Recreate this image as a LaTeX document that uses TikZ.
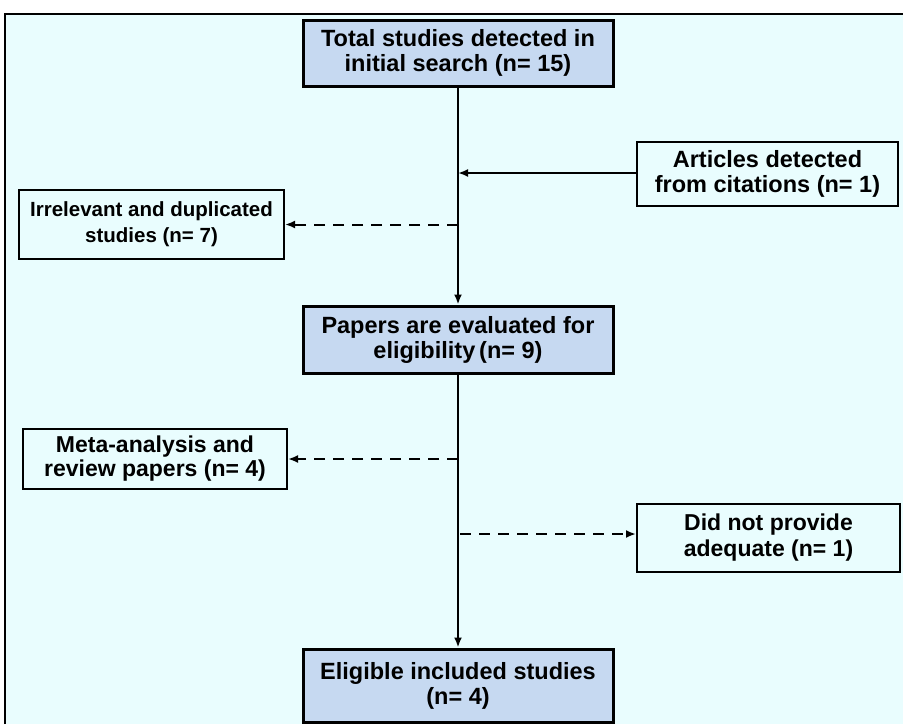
\documentclass[tikz,border=0pt]{standalone}
\usepackage{fontspec}
\setmainfont{Liberation Sans}
\usetikzlibrary{arrows.meta}
\definecolor{bgc}{HTML}{E9FDFE}
\definecolor{mainfill}{HTML}{C6D9F1}
\tikzset{
  mainbox/.style={draw=black, line width=3pt, fill=mainfill, minimum width=310pt, align=center, font=\fontsize{23.5}{25}\selectfont\bfseries, inner sep=0pt},
  sidebox/.style={draw=black, line width=2pt, fill=bgc, align=center, font=\fontsize{23.5}{25}\selectfont\bfseries, inner sep=0pt},
  solidarrow/.style={line width=2pt, -{Latex[length=10pt,width=8pt]}},
  dasharrow/.style={line width=2pt, dash pattern=on 11pt off 8pt, -{Latex[length=10pt,width=8pt]}}
}
\begin{document}
\begin{tikzpicture}[x=1pt,y=-1pt]
\useasboundingbox (0,0) rectangle (903,724);
\fill[white] (0,0) rectangle (903,724);
\fill[bgc] (5,14) rectangle (903,724);
\draw[line width=1.5pt] (5,724) -- (5,14) -- (903,14);

\node[mainbox, minimum height=66pt] (total) at (458,53) {Total studies detected in\\initial search (n= 15)};
\node[sidebox, minimum width=261pt, minimum height=64pt] (articles) at (767.5,174) {Articles detected\\from citations (n= 1)};
\node[sidebox, minimum width=265pt, minimum height=69pt, font=\fontsize{20.5}{26}\selectfont\bfseries] (irrel) at (151.5,224.5) {Irrelevant and duplicated\\studies (n= 7)};
\node[mainbox, minimum height=67pt] (papers) at (458,339.5) {Papers are evaluated for\\eligibility\,(n= 9)};
\node[sidebox, minimum width=264pt, minimum height=60pt, font=\fontsize{23}{24}\selectfont\bfseries] (meta) at (155,459) {Meta-analysis and\\review papers (n= 4)};
\node[sidebox, minimum width=263pt, minimum height=68pt, font=\fontsize{23}{26}\selectfont\bfseries] (didnot) at (768.5,538) {Did not provide\\adequate (n= 1)};
\node[mainbox, minimum height=73pt] (elig) at (458,685.5) {Eligible included studies\\(n= 4)};

\coordinate (j1) at (458,173);
\coordinate (j2) at (458,224.5);
\coordinate (j3) at (458,459);
\coordinate (j4) at (460,534);

\draw[solidarrow] (total.south) -- (papers.north);
\draw[solidarrow] (articles.west |- j1) -- (j1);
\draw[dasharrow] (j2) -- (irrel.east);
\draw[solidarrow] (papers.south) -- (elig.north);
\draw[dasharrow] (j3) -- (meta.east);
\draw[dasharrow] (j4) -- (didnot.west |- j4);
\end{tikzpicture}
\end{document}
